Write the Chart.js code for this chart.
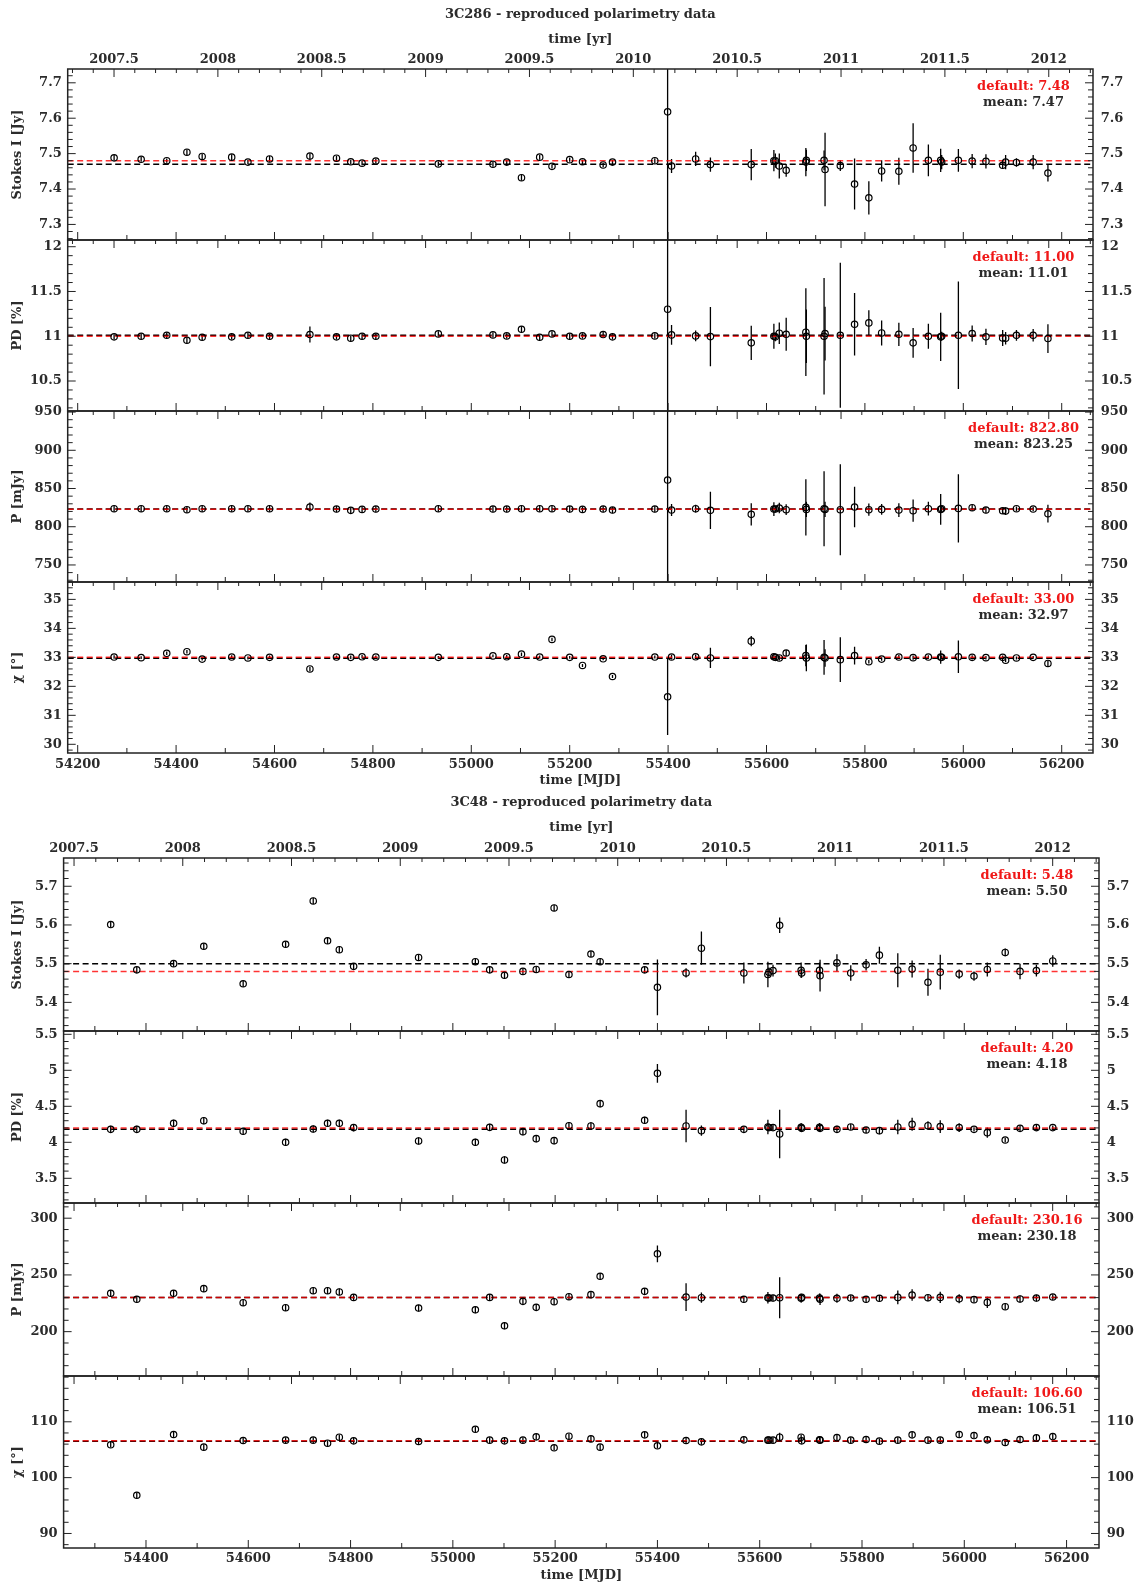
<!DOCTYPE html>
<html>
<head>
<meta charset="utf-8">
<title>Reproduced polarimetry data</title>
<script src="https://cdn.jsdelivr.net/npm/chart.js@4.4.1/dist/chart.umd.min.js"></script>
<style>
  html, body { margin: 0; padding: 0; background: #fff; }
  #page { position: relative; width: 1135px; height: 1587px; overflow: hidden; }
  #page canvas { position: absolute; left: 0; }
</style>
</head>
<body>
<div id="page"></div>
<script>
'use strict';

/* ---- 3C286: epochs (MJD) and measurements ---- */
var mjd3C286 = [54274, 54329, 54381, 54422, 54453, 54513, 54546, 54590, 54672, 54726,
    54755, 54778, 54806, 54933, 55044, 55072, 55102, 55139, 55164, 55200,
    55226, 55268, 55287, 55373, 55399, 55407, 55456, 55486, 55569, 55615,
    55618, 55626, 55640, 55680, 55681, 55717, 55719, 55750, 55779, 55808,
    55834, 55869, 55898, 55929, 55954, 55956, 55990, 56018, 56046, 56080,
    56086, 56108, 56142, 56172];

var stokes3C286 = [7.488, 7.484, 7.480, 7.504, 7.492, 7.490, 7.476, 7.485, 7.493, 7.487,
    7.477, 7.473, 7.479, 7.471, 7.470, 7.476, 7.432, 7.490, 7.464, 7.483,
    7.477, 7.468, 7.476, 7.480, 7.618, 7.465, 7.485, 7.469, 7.469, 7.480,
    7.480, 7.465, 7.453, 7.476, 7.481, 7.481, 7.455, 7.466, 7.414, 7.375,
    7.451, 7.450, 7.516, 7.481, 7.481, 7.476, 7.481, 7.479, 7.478, 7.467,
    7.476, 7.475, 7.476, 7.445];
var stokesErr3C286 = [0.008, 0.007, 0.006, 0.008, 0.007, 0.008, 0.006, 0.008, 0.008, 0.007,
    0.006, 0.006, 0.007, 0.007, 0.007, 0.007, 0.008, 0.007, 0.006, 0.006,
    0.006, 0.006, 0.006, 0.007, 0.5, 0.02, 0.02, 0.02, 0.044, 0.03,
    0.02, 0.035, 0.018, 0.04, 0.03, 0.028, 0.104, 0.015, 0.072, 0.047,
    0.03, 0.038, 0.07, 0.045, 0.033, 0.02, 0.032, 0.02, 0.02, 0.01,
    0.02, 0.012, 0.02, 0.024];

var pd3C286 = [10.993, 11.0, 11.011, 10.955, 10.989, 10.993, 11.011, 11.0, 11.019, 10.993,
    10.978, 11.0, 11.0, 11.026, 11.015, 11.004, 11.078, 10.989, 11.026, 11.0,
    11.004, 11.019, 10.993, 11.004, 11.302, 11.015, 11.004, 10.996, 10.926, 11.0,
    10.993, 11.034, 11.022, 11.045, 11.0, 11.0, 11.03, 11.011, 11.134, 11.149,
    11.037, 11.022, 10.926, 11.0, 10.993, 11.0, 11.011, 11.03, 10.993, 10.981,
    10.978, 11.011, 11.011, 10.974];
var pdErr3C286 = [0.03, 0.03, 0.03, 0.03, 0.03, 0.03, 0.03, 0.03, 0.09, 0.03,
    0.03, 0.03, 0.03, 0.03, 0.03, 0.03, 0.035, 0.03, 0.03, 0.03,
    0.03, 0.03, 0.03, 0.03, 1.5, 0.11, 0.06, 0.33, 0.19, 0.14,
    0.05, 0.12, 0.185, 0.49, 0.3, 0.65, 0.3, 0.81, 0.35, 0.14,
    0.14, 0.13, 0.165, 0.14, 0.27, 0.05, 0.6, 0.09, 0.09, 0.09,
    0.07, 0.06, 0.07, 0.16];

var pol3C286 = [823.6, 823.6, 823.6, 822.3, 823.6, 823.6, 823.6, 823.6, 825.8, 823.1,
    821.4, 822.7, 823.1, 823.6, 823.1, 823.1, 823.6, 823.6, 823.6, 823.1,
    822.7, 823.1, 821.8, 823.1, 861.1, 821.8, 823.6, 821.4, 816.2, 823.1,
    823.1, 824.5, 822.3, 825.3, 822.7, 823.6, 822.7, 822.3, 825.8, 822.3,
    822.7, 821.8, 821.0, 823.6, 822.7, 823.6, 824.0, 824.9, 821.8, 821.0,
    820.5, 823.6, 823.1, 817.0];
var polErr3C286 = [4, 4, 4, 4, 4, 4, 4, 4, 6, 4,
    4, 4, 4, 4, 4, 4, 4, 4, 4, 4,
    4, 4, 4, 4, 150, 7.9, 5, 24.5, 14.6, 9,
    4, 7, 7, 36.7, 10, 49, 10, 59.6, 26.6, 8,
    7, 9, 14.6, 9, 20, 4, 44.5, 4, 4, 4,
    5, 3, 3, 11.6];

var evpa3C286 = [33.01, 32.99, 33.14, 33.195, 32.94, 33.01, 32.98, 33.0, 32.6, 33.01,
    33.0, 33.02, 33.01, 33.0, 33.05, 33.02, 33.11, 33.01, 33.62, 33.0,
    32.72, 32.95, 32.34, 33.01, 31.64, 33.01, 33.02, 32.98, 33.56, 33.02,
    33.0, 32.98, 33.15, 33.06, 32.98, 33.0, 32.98, 32.92, 33.06, 32.85,
    32.94, 33.01, 32.99, 33.01, 33.01, 33.0, 33.02, 33.0, 32.99, 33.0,
    32.9, 32.98, 33.0, 32.79];
var evpaErr3C286 = [0.06, 0.05, 0.06, 0.06, 0.05, 0.06, 0.05, 0.06, 0.08, 0.05,
    0.06, 0.06, 0.05, 0.05, 0.05, 0.06, 0.06, 0.05, 0.06, 0.05,
    0.05, 0.05, 0.05, 0.05, 1.32, 0.08, 0.08, 0.35, 0.18, 0.1,
    0.06, 0.08, 0.1, 0.37, 0.46, 0.6, 0.3, 0.77, 0.31, 0.06,
    0.06, 0.07, 0.07, 0.06, 0.23, 0.06, 0.56, 0.07, 0.06, 0.06,
    0.06, 0.05, 0.05, 0.1];

/* ---- 3C48: epochs (MJD) and measurements ---- */
var mjd3C48 = [54331, 54382, 54454, 54513, 54590, 54673, 54727, 54755, 54778, 54806,
    54933, 55044, 55072, 55101, 55137, 55163, 55198, 55227, 55270, 55288,
    55375, 55400, 55456, 55486, 55569, 55616, 55618, 55626, 55639, 55681,
    55682, 55717, 55718, 55751, 55778, 55808, 55834, 55870, 55898, 55929,
    55953, 55990, 56019, 56045, 56080, 56109, 56141, 56173];

var stokes3C48 = [5.601, 5.484, 5.500, 5.545, 5.448, 5.550, 5.662, 5.559, 5.536, 5.493,
    5.516, 5.505, 5.484, 5.470, 5.480, 5.485, 5.644, 5.472, 5.525, 5.505,
    5.484, 5.439, 5.476, 5.540, 5.476, 5.472, 5.478, 5.482, 5.599, 5.483,
    5.476, 5.483, 5.469, 5.502, 5.476, 5.497, 5.522, 5.483, 5.486, 5.452,
    5.478, 5.473, 5.468, 5.485, 5.529, 5.480, 5.482, 5.507];
var stokesErr3C48 = [0.008, 0.008, 0.008, 0.008, 0.008, 0.008, 0.008, 0.008, 0.008, 0.008,
    0.008, 0.008, 0.008, 0.008, 0.008, 0.008, 0.008, 0.008, 0.008, 0.008,
    0.008, 0.072, 0.012, 0.043, 0.027, 0.033, 0.012, 0.015, 0.02, 0.02,
    0.012, 0.02, 0.041, 0.022, 0.02, 0.015, 0.022, 0.044, 0.022, 0.035,
    0.045, 0.012, 0.012, 0.018, 0.01, 0.02, 0.015, 0.015];

var pd3C48 = [4.18, 4.18, 4.264, 4.30, 4.153, 4.00, 4.185, 4.264, 4.264, 4.204,
    4.019, 4.00, 4.208, 3.755, 4.148, 4.051, 4.023, 4.231, 4.227, 4.537,
    4.306, 4.958, 4.227, 4.162, 4.18, 4.213, 4.204, 4.204, 4.116, 4.208,
    4.194, 4.208, 4.194, 4.18, 4.213, 4.171, 4.162, 4.213, 4.25, 4.231,
    4.218, 4.204, 4.18, 4.134, 4.032, 4.194, 4.204, 4.204];
var pdErr3C48 = [0.05, 0.05, 0.05, 0.05, 0.05, 0.05, 0.05, 0.05, 0.05, 0.05,
    0.05, 0.05, 0.05, 0.05, 0.05, 0.05, 0.05, 0.05, 0.05, 0.05,
    0.05, 0.13, 0.225, 0.07, 0.04, 0.1, 0.04, 0.04, 0.336, 0.06,
    0.04, 0.06, 0.05, 0.05, 0.04, 0.04, 0.05, 0.1, 0.09, 0.06,
    0.09, 0.06, 0.03, 0.07, 0.03, 0.04, 0.04, 0.03];

var pol3C48 = [233.8, 228.5, 233.8, 237.9, 225.5, 221.1, 236.1, 236.1, 235.0, 230.2,
    220.8, 219.3, 230.2, 205.2, 226.7, 221.4, 226.4, 230.8, 232.6, 248.8,
    235.5, 268.6, 230.5, 229.9, 228.5, 229.9, 229.6, 229.6, 229.9, 229.4,
    230.2, 229.6, 228.5, 229.4, 229.6, 228.5, 229.4, 230.2, 232.3, 229.9,
    230.2, 229.0, 228.2, 225.8, 222.0, 228.8, 229.6, 230.5];
var polErr3C48 = [3, 3, 3, 3, 3, 3, 3, 3, 3, 3,
    3, 3, 3, 3, 3, 3, 3, 3, 3, 3,
    3, 7.4, 12.2, 4.5, 3, 5, 3, 3, 18, 4,
    3, 4, 5, 4, 2.5, 3, 3, 6, 5, 3,
    5, 4, 2.5, 5, 2.5, 3, 3, 2.5];

var evpa3C48 = [105.88, 96.85, 107.72, 105.46, 106.65, 106.71, 106.71, 106.17, 107.24, 106.59,
    106.47, 108.66, 106.71, 106.59, 106.71, 107.3, 105.34, 107.42, 106.94, 105.46,
    107.66, 105.7, 106.65, 106.41, 106.77, 106.71, 106.71, 106.71, 107.24, 107.24,
    106.59, 106.77, 106.71, 107.18, 106.71, 106.83, 106.53, 106.71, 107.66, 106.71,
    106.71, 107.72, 107.54, 106.77, 106.29, 106.83, 107.12, 107.36];
var evpaErr3C48 = [0.5, 0.5, 0.5, 0.5, 0.5, 0.5, 0.5, 0.5, 0.5, 0.5,
    0.5, 0.5, 0.5, 0.5, 0.5, 0.5, 0.5, 0.5, 0.5, 0.5,
    0.5, 0.5, 0.6, 0.5, 0.5, 0.5, 0.5, 0.5, 0.8, 0.5,
    0.5, 0.5, 0.5, 0.5, 0.5, 0.5, 0.5, 0.5, 0.5, 0.5,
    0.5, 0.5, 0.5, 0.5, 0.5, 0.5, 0.5, 0.5];

/* ---- reference levels: [Stokes I, PD, P, chi] ---- */
var defaults3C286 = [7.48, 11.00, 822.80, 33.00];
var means3C286 = [7.47, 11.01, 823.25, 32.97];
var defaults3C48 = [5.48, 4.20, 230.16, 106.60];
var means3C48 = [5.50, 4.18, 230.18, 106.51];

/* ---- tick labels ---- */
var yearTicks = [2007.5, 2008, 2008.5, 2009, 2009.5, 2010, 2010.5, 2011, 2011.5, 2012];
var mjdTicks3C286 = [54200, 54400, 54600, 54800, 55000, 55200, 55400, 55600, 55800, 56000, 56200];
var mjdTicks3C48 = [54400, 54600, 54800, 55000, 55200, 55400, 55600, 55800, 56000, 56200];

var stokesTicks3C286 = [7.3, 7.4, 7.5, 7.6, 7.7];
var pdTicks3C286 = [10.5, 11, 11.5, 12];
var polTicks3C286 = [750, 800, 850, 900, 950];
var evpaTicks3C286 = [30, 31, 32, 33, 34, 35];
var stokesTicks3C48 = [5.4, 5.5, 5.6, 5.7];
var pdTicks3C48 = [3.5, 4, 4.5, 5, 5.5];
var polTicks3C48 = [200, 250, 300];
var evpaTicks3C48 = [90, 100, 110];

var FONT_FAMILY = "'DejaVu Serif', serif";
var FONT_SIZE = 13;
var LINE_HEIGHT = FONT_SIZE * 1.2;

Chart.defaults.font.family = FONT_FAMILY;
Chart.defaults.font.size = FONT_SIZE;
Chart.defaults.font.weight = 'bold';
Chart.defaults.color = '#2b2b2b';

var PAGE_WIDTH = 1135;
var EDGE_PAD = 16;
var TITLE_PAD = 7.2;

var figures = [
    {
        title: '3C286 - reproduced polarimetry data',
        top: 0, left: 67.7, right: 1093,
        edges: [69, 240, 411, 582, 753],
        mjdRange: [54179.7, 56263.6],
        yearRange: [2007.277, 2012.213],
        mjdTicks: mjdTicks3C286,
        labelX: 1023.5,
        bottomTickPad: 4.2, bottomTitlePad: 4.2,
        mjd: mjd3C286,
        defaults: defaults3C286,
        means: means3C286,
        panels: [
            {label: 'Stokes I [Jy]', values: stokes3C286, errors: stokesErr3C286, range: [7.256, 7.739], ticks: stokesTicks3C286, minor: 0.02},
            {label: 'PD [%]', values: pd3C286, errors: pdErr3C286, range: [10.165, 12.075], ticks: pdTicks3C286, minor: 0.1},
            {label: 'P [mJy]', values: pol3C286, errors: polErr3C286, range: [727.7, 951.4], ticks: polTicks3C286, minor: 10},
            {label: 'χ [°]', values: evpa3C286, errors: evpaErr3C286, range: [29.7, 35.6], ticks: evpaTicks3C286, minor: 0.2}
        ]
    },
    {
        title: '3C48 - reproduced polarimetry data',
        top: 788, left: 63.6, right: 1099,
        edges: [858, 1031, 1203, 1376, 1548],
        mjdRange: [54238.9, 56263.4],
        yearRange: [2007.452, 2012.213],
        mjdTicks: mjdTicks3C48,
        labelX: 1027,
        bottomTickPad: 2.5, bottomTitlePad: 4.5,
        mjd: mjd3C48,
        defaults: defaults3C48,
        means: means3C48,
        panels: [
            {label: 'Stokes I [Jy]', values: stokes3C48, errors: stokesErr3C48, range: [5.326, 5.773], ticks: stokesTicks3C48, minor: 0.02},
            {label: 'PD [%]', values: pd3C48, errors: pdErr3C48, range: [3.157, 5.546], ticks: pdTicks3C48, minor: 0.1},
            {label: 'P [mJy]', values: pol3C48, errors: polErr3C48, range: [160.9, 313.4], ticks: polTicks3C48, minor: 10},
            {label: 'χ [°]', values: evpa3C48, errors: evpaErr3C48, range: [87.4, 118.2], ticks: evpaTicks3C48, minor: 2}
        ]
    }
];

/**
 * Values on a regular step between min and max
 */
function stepValues(min, max, step) {
    var out = [];
    for (var k = Math.ceil(min / step - 1e-9); k * step <= max + 1e-9; k++) {
        out.push(Math.round(k * step * 1e6) / 1e6);
    }
    return out;
}

function isMultiple(v, step) {
    var r = v / step;
    return Math.abs(r - Math.round(r)) < 1e-6;
}

function segment(ctx, x0, y0, x1, y1) {
    ctx.beginPath();
    ctx.moveTo(x0, y0);
    ctx.lineTo(x1, y1);
    ctx.stroke();
}

function fixedTicks(values) {
    return function (scale) {
        scale.ticks = values.filter(function (v) {
            return v >= scale.min - 1e-9 && v <= scale.max + 1e-9;
        }).map(function (v) {
            return {value: v};
        });
    };
}

function plainLabel(v) {
    return String(v);
}

/**
 * Vertical error bars for the first dataset, clipped to the panel
 */
var errorBars = {
    id: 'errorBars',
    beforeDatasetsDraw: function (chart) {
        var ctx = chart.ctx, a = chart.chartArea;
        var x = chart.scales.x, y = chart.scales.y;
        ctx.save();
        ctx.beginPath();
        ctx.rect(a.left, a.top, a.width, a.height);
        ctx.clip();
        ctx.strokeStyle = '#000';
        ctx.lineWidth = 1.3;
        chart.data.datasets[0].data.forEach(function (p) {
            var px = x.getPixelForValue(p.x);
            segment(ctx, px, y.getPixelForValue(p.y - p.e), px, y.getPixelForValue(p.y + p.e));
        });
        ctx.restore();
    }
};

/**
 * Panel frame, inward ticks on all four sides and the default/mean note
 */
var frameTicks = {
    id: 'frameTicks',
    afterDraw: function (chart, args, opts) {
        var ctx = chart.ctx, a = chart.chartArea, s = chart.scales;
        ctx.save();
        ctx.strokeStyle = '#222';
        ctx.lineWidth = 1;

        stepValues(s.x.min, s.x.max, 100).forEach(function (v) {
            var px = s.x.getPixelForValue(v);
            segment(ctx, px, a.bottom, px, a.bottom - (isMultiple(v, 200) ? 8 : 5));
        });
        stepValues(s.xTop.min, s.xTop.max, 0.1).forEach(function (v) {
            var px = s.xTop.getPixelForValue(v);
            segment(ctx, px, a.top, px, a.top + (isMultiple(v, 0.5) ? 8 : 4));
        });
        stepValues(s.y.min, s.y.max, opts.minor).forEach(function (v) {
            var py = s.y.getPixelForValue(v);
            var major = opts.ticks.some(function (t) { return Math.abs(t - v) < opts.minor / 10; });
            var len = major ? 8 : 5;
            segment(ctx, a.left, py, a.left + len, py);
            segment(ctx, a.right, py, a.right - len, py);
        });

        ctx.lineWidth = 1.5;
        ctx.strokeRect(a.left, a.top, a.width, a.height);

        ctx.font = 'bold ' + FONT_SIZE + 'px ' + FONT_FAMILY;
        ctx.textAlign = 'center';
        ctx.textBaseline = 'middle';
        ctx.fillStyle = '#f01818';
        ctx.fillText('default: ' + opts.defaultLevel.toFixed(2), opts.labelX, a.top + 18);
        ctx.fillStyle = '#2b2b2b';
        ctx.fillText('mean: ' + opts.meanLevel.toFixed(2), opts.labelX, a.top + 34);
        ctx.restore();
    }
};

/**
 * Build one panel of a figure as its own chart
 */
function createPanel(fig, i) {
    var panel = fig.panels[i];
    var isTop = i === 0;
    var isBottom = i === fig.panels.length - 1;
    var top = fig.edges[i];
    var bottom = fig.edges[i + 1];
    var canvasTop = isTop ? fig.top : top - EDGE_PAD;
    var canvasBottom = bottom + (isBottom ? 40 : EDGE_PAD);
    var titleHeight = LINE_HEIGHT + TITLE_PAD;

    var canvas = document.createElement('canvas');
    canvas.width = PAGE_WIDTH;
    canvas.height = canvasBottom - canvasTop;
    canvas.style.top = canvasTop + 'px';
    document.getElementById('page').appendChild(canvas);

    var points = fig.mjd.map(function (t, k) {
        return {x: t, y: panel.values[k], e: panel.errors[k]};
    });
    var level = function (v) {
        return [{x: fig.mjdRange[0], y: v}, {x: fig.mjdRange[1], y: v}];
    };
    var hidden = {display: false, drawTicks: false};

    return new Chart(canvas, {
        type: 'scatter',
        data: {
            datasets: [
                {
                    data: points,
                    xAxisID: 'x', yAxisID: 'y',
                    pointStyle: 'circle',
                    pointRadius: 3.2,
                    pointBorderWidth: 1.2,
                    pointBorderColor: '#000',
                    pointBackgroundColor: 'rgba(0,0,0,0)',
                    showLine: false,
                    order: 0
                },
                {
                    data: level(fig.defaults[i]),
                    xAxisID: 'x', yAxisID: 'y',
                    showLine: true, pointRadius: 0,
                    borderColor: 'rgba(255,0,0,0.8)', borderWidth: 1.5, borderDash: [6, 3.5],
                    order: 1
                },
                {
                    data: level(fig.means[i]),
                    xAxisID: 'x', yAxisID: 'y',
                    showLine: true, pointRadius: 0,
                    borderColor: '#000', borderWidth: 1.5, borderDash: [6, 3.5],
                    order: 2
                }
            ]
        },
        options: {
            responsive: false,
            devicePixelRatio: 1,
            animation: false,
            events: [],
            layout: {padding: 0},
            plugins: {
                legend: {display: false},
                tooltip: {enabled: false},
                title: {
                    display: isTop,
                    text: fig.title,
                    fullSize: false,
                    padding: {top: TITLE_PAD, bottom: 0},
                    font: {size: FONT_SIZE, weight: 'bold'},
                    color: '#2b2b2b'
                },
                frameTicks: {
                    minor: panel.minor,
                    ticks: panel.ticks,
                    defaultLevel: fig.defaults[i],
                    meanLevel: fig.means[i],
                    labelX: fig.labelX
                }
            },
            scales: {
                x: {
                    type: 'linear', position: 'bottom', bounds: 'data',
                    min: fig.mjdRange[0], max: fig.mjdRange[1],
                    afterBuildTicks: fixedTicks(fig.mjdTicks),
                    ticks: {display: isBottom, autoSkip: false, maxRotation: 0, padding: fig.bottomTickPad, callback: plainLabel},
                    grid: hidden, border: {display: false},
                    title: {display: isBottom, text: 'time [MJD]', padding: {top: 0, bottom: fig.bottomTitlePad}},
                    afterFit: function (scale) { scale.height = isBottom ? 40 : EDGE_PAD; }
                },
                xTop: {
                    type: 'linear', position: 'top', bounds: 'data',
                    min: fig.yearRange[0], max: fig.yearRange[1],
                    afterBuildTicks: fixedTicks(yearTicks),
                    ticks: {display: isTop, autoSkip: false, maxRotation: 0, padding: 1.9, callback: plainLabel},
                    grid: hidden, border: {display: false},
                    title: {display: isTop, text: 'time [yr]', padding: {top: 9.4, bottom: 0}},
                    afterFit: function (scale) { scale.height = isTop ? top - fig.top - titleHeight : EDGE_PAD; }
                },
                y: {
                    type: 'linear', position: 'left', bounds: 'data',
                    min: panel.range[0], max: panel.range[1],
                    afterBuildTicks: fixedTicks(panel.ticks),
                    ticks: {autoSkip: false, padding: 6, callback: plainLabel},
                    grid: hidden, border: {display: false},
                    title: {display: true, text: panel.label, padding: {top: 9.7, bottom: 0}},
                    afterFit: function (scale) { scale.width = fig.left; }
                },
                yR: {
                    type: 'linear', position: 'right', bounds: 'data',
                    min: panel.range[0], max: panel.range[1],
                    afterBuildTicks: fixedTicks(panel.ticks),
                    ticks: {autoSkip: false, padding: 7.7, callback: plainLabel},
                    grid: hidden, border: {display: false},
                    afterFit: function (scale) { scale.width = PAGE_WIDTH - fig.right; }
                }
            }
        },
        plugins: [errorBars, frameTicks]
    });
}

figures.forEach(function (fig) {
    fig.panels.forEach(function (panel, i) {
        createPanel(fig, i);
    });
});
</script>
</body>
</html>
